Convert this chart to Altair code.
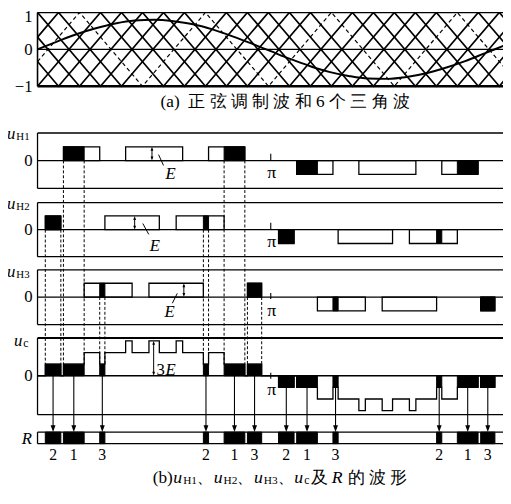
import altair as alt
import pandas as pd

# ---------------- values (electrical degrees) ----------------
SINE_DEG = [0, 15, 30, 45, 60, 75, 90, 105, 120, 135, 150, 165, 180,
            195, 210, 225, 240, 255, 270, 285, 300, 315, 330, 345, 360]
SINE_VAL = [0.00, 0.21, 0.41, 0.57, 0.70, 0.78, 0.80, 0.76, 0.68, 0.54, 0.36, 0.16, -0.05,
            -0.26, -0.45, -0.61, -0.72, -0.79, -0.80, -0.75, -0.65, -0.50, -0.32, -0.11, 0.10]

# turning points of the six phase-shifted triangular carriers
CARRIER_X = [
    [0, 48.6, 97.2, 145.8, 194.4, 243.0, 291.6, 340.2, 360],
    [0, 16.2, 64.8, 113.4, 162.0, 210.6, 259.2, 307.8, 356.4, 360],
    [0, 32.4, 81.0, 129.6, 178.2, 226.8, 275.4, 324.0, 360],
    [0, 48.6, 97.2, 145.8, 194.4, 243.0, 291.6, 340.2, 360],
    [0, 16.2, 64.8, 113.4, 162.0, 210.6, 259.2, 307.8, 356.4, 360],
    [0, 32.4, 81.0, 129.6, 178.2, 226.8, 275.4, 324.0, 360],
]
CARRIER_Y = [
    [1, -1, 1, -1, 1, -1, 1, -1, -0.19],
    [0.33, 1, -1, 1, -1, 1, -1, 1, -1, -0.85],
    [-0.33, 1, -1, 1, -1, 1, -1, 1, -0.48],
    [-1, 1, -1, 1, -1, 1, -1, 1, 0.19],
    [-0.33, -1, 1, -1, 1, -1, 1, -1, 1, 0.85],
    [0.33, -1, 1, -1, 1, -1, 1, -1, 0.48],
]
DASHED_CARRIER = 2

CELLS = ["H1", "H2", "H3"]
PULSE_START = {"H1": [20, 68, 132, 200, 248, 312],
               "H2": [6, 52, 107, 186, 232, 287],
               "H3": [36, 86, 162, 216, 266, 342]}
PULSE_END = {"H1": [48, 112, 160, 228, 292, 340],
             "H2": [18, 94, 144, 198, 274, 324],
             "H3": [73, 128, 173, 253, 308, 353]}

R_START = [6, 20, 48, 128, 144, 162, 186, 200, 228, 308, 324, 342]
R_END = [18, 36, 52, 132, 160, 173, 198, 216, 232, 312, 340, 353]
R_CELL = [2, 1, 3, 2, 1, 3, 2, 1, 3, 2, 1, 3]

# ---------------- layout (page pixels) ----------------
PX0, PX_PI = 38.0, 275.0


def px(p):
    return (p - PX0) * 180.0 / (PX_PI - PX0)


X_LEFT, X_RIGHT = px(8), px(511)
XS = alt.Scale(domain=[X_LEFT, X_RIGHT], nice=False, zero=False)
YS = alt.Scale(domain=[8, 504], reverse=True, nice=False, zero=False)

A_ZERO, A_UNIT, A_TOP, A_BOT = 46.0, 37.5, 8.7, 83.5
PANEL = {
    "H1": dict(zero=159.0, top=131.0, bot=187.3, e=14.0),
    "H2": dict(zero=229.3, top=201.7, bot=256.7, e=14.0),
    "H3": dict(zero=297.7, top=270.0, bot=325.7, e=14.0),
    "c": dict(zero=377.7, top=339.3, bot=417.3, e=11.8),
}
R_TOP, R_BOT = 435.0, 446.7
FONT = "Liberation Serif"

# ---------------- build tables ----------------
rules = []


def rule(x, x2, y, y2, w=1.2):
    rules.append(dict(x=x, x2=x2, y=y, y2=y2, w=w))


rule(0, X_RIGHT, A_TOP, A_TOP, 1.4)
rule(0, X_RIGHT, A_BOT, A_BOT, 2.4)
rule(0, X_RIGHT, A_ZERO, A_ZERO, 1.2)
rule(0, 0, A_TOP, A_BOT, 1.6)
for key, p in PANEL.items():
    rule(0, X_RIGHT, p["top"], p["top"], 2.0 if key == "c" else 1.3)
    rule(0, X_RIGHT, p["bot"], p["bot"], 1.3)
    rule(0, X_RIGHT, p["zero"], p["zero"], 1.3)
    rule(0, 0, p["top"], p["bot"], 1.3)
rule(0, X_RIGHT, R_TOP, R_TOP, 1.3)
rule(0, X_RIGHT, R_BOT, R_BOT, 1.3)
rule(0, 0, R_TOP, R_BOT, 1.3)

TICK = {"H1": (-7, 0), "H2": (-7, 0), "H3": (-4, 2), "c": (-3, 3)}
for key, (a, b) in TICK.items():
    z = PANEL[key]["zero"]
    rule(180, 180, z + a, z + b, 1.1)

points = []
UP = "M-0.7,1L0.7,1L0,-1Z"
DOWN = "M-0.7,-1L0.7,-1L0,1Z"

# E / 3E double arrows
E_MARKS = [("H1", 154.3, 1), ("H2", 136.7, 1), ("H3", 186.7, 1), ("c", 156.0, 3)]
for key, xp, lvl in E_MARKS:
    p = PANEL[key]
    top = p["zero"] - lvl * p["e"]
    rule(px(xp), px(xp), top + 2, p["zero"] - 2, 1.0)
    points.append(dict(x=px(xp), y=top + 2, shape=UP, size=16))
    points.append(dict(x=px(xp), y=p["zero"] - 2, shape=DOWN, size=16))

LEADERS = [(161, 153, 166, 164), (145, 223, 151, 234), (180, 294, 175, 304)]
for x1, y1, x2, y2 in LEADERS:
    rule(px(x1), px(x2), y1, y2, 1.0)

pulses = []
blacks = []
for cell in CELLS:
    p = PANEL[cell]
    for s, e in zip(PULSE_START[cell], PULSE_END[cell]):
        sg = 1 if s < 180 else -1
        pulses.append(dict(x=s, x2=e, y=p["zero"], y2=p["zero"] - sg * p["e"]))

dashed = []
uc = PANEL["c"]
for s, e, c in zip(R_START, R_END, R_CELL):
    sg = 1 if s < 180 else -1
    p = PANEL["H%d" % c]
    blacks.append(dict(x=s, x2=e, y=p["zero"], y2=p["zero"] - sg * p["e"]))
    blacks.append(dict(x=s, x2=e, y=uc["zero"], y2=uc["zero"] - sg * uc["e"]))
    blacks.append(dict(x=s, x2=e, y=R_TOP, y2=R_BOT))
    if sg > 0:
        for edge in (s, e):
            dashed.append(dict(x=edge, x2=edge, y=p["zero"], y2=uc["zero"] - uc["e"]))
    mid = (s + e) / 2.0
    y0 = uc["zero"] if sg > 0 else uc["zero"] + uc["e"]
    rule(mid, mid, y0, R_TOP - 4, 1.1)
    points.append(dict(x=mid, y=R_TOP - 3.6, shape=DOWN, size=50))

# u_c = sum of the three cell voltages
edges = sorted({0.0, 360.0} | {float(v) for c in CELLS for v in PULSE_START[c] + PULSE_END[c]})
uc_rows = []
for i, a in enumerate(edges[:-1]):
    lvl = 0
    for cell in CELLS:
        for s, e in zip(PULSE_START[cell], PULSE_END[cell]):
            if s <= a < e:
                lvl += 1 if s < 180 else -1
    uc_rows.append(dict(i=i, x=a, y=uc["zero"] - lvl * uc["e"]))
uc_rows.append(dict(i=len(uc_rows), x=360.0, y=uc_rows[-1]["y"]))

carrier_rows = []
for k, (xs, ys) in enumerate(zip(CARRIER_X, CARRIER_Y)):
    for i, (xv, yv) in enumerate(zip(xs, ys)):
        carrier_rows.append(dict(k=k, i=i, x=xv, y=A_ZERO - yv * A_UNIT))
sine_rows = [dict(i=i, x=d, y=A_ZERO - v * A_UNIT) for i, (d, v) in enumerate(zip(SINE_DEG, SINE_VAL))]

# ---------------- text ----------------
texts = []


def txt(t, xp, y, size=17, style="normal", align="left"):
    texts.append(dict(t=t, x=px(xp), y=y, size=size, style=style, align=align))


txt("1", 33, 18, 17, align="right")
txt("0", 33, A_ZERO + 5.5, 17, align="right")
txt("\u22121", 33, 89, 17, align="right")
txt("(a)\u2002正\u2005弦\u2005调\u2005制\u2005波\u2005和 6 个\u2005三\u2005角\u2005波", 163, 105, 17.5)

LABELS = [("H1", 7, 137, "H1", 16.5), ("H2", 7, 208, "H2", 16.5), ("H3", 7, 277, "H3", 16.5), ("c", 14, 347, "c", 23.5)]
for key, xu, yb, sub, xs in LABELS:
    txt("u", xu, yb, 17, "italic")
    txt(sub, xs, yb + 1, 11 if key != "c" else 12)
    txt("0", 33, PANEL[key]["zero"] + 5.5, 17, align="right")
txt("R", 22, 447, 17, "italic")

for yb in (177, 247, 317, 397):
    txt("π", 276, yb, 18, align="center")

txt("E", 168, 178, 17, "italic")
txt("E", 152, 251, 17, "italic")
txt("E", 167, 318, 17, "italic")
txt("3", 159, 377, 17)
txt("E", 168, 377, 17, "italic")

for s, e, c in zip(R_START, R_END, R_CELL):
    texts.append(dict(t=str(c), x=(s + e) / 2.0, y=463, size=16, style="normal", align="center"))

CAP_B = [("(b)", 155, "normal", 17.5), ("u", 176, "italic", 18), ("H1", 186, "normal", 11.5),
         ("、", 200, "normal", 15), ("u", 217, "italic", 18), ("H2", 227, "normal", 11.5),
         ("、", 241, "normal", 15), ("u", 258, "italic", 18), ("H3", 268, "normal", 11.5),
         ("、", 282, "normal", 15), ("u", 299, "italic", 18), ("c", 309, "normal", 12),
         ("及", 316, "normal", 17), ("R", 337, "italic", 18), ("的\u2005波\u2005形", 353, "normal", 17)]
for t, xp, st, sz in CAP_B:
    txt(t, xp, 488 if sz < 13 else 487, sz, st)

# ---------------- chart ----------------
def X(f="x"):
    return alt.X(f + ":Q", scale=XS, axis=None)


def Y(f="y"):
    return alt.Y(f + ":Q", scale=YS, axis=None)


layers = []
layers.append(alt.Chart(pd.DataFrame(pulses)).mark_rect(fill="white", stroke="black", strokeWidth=1.3)
              .encode(x=X(), x2="x2:Q", y=Y(), y2="y2:Q"))
layers.append(alt.Chart(pd.DataFrame(blacks)).mark_rect(fill="black", stroke="black", strokeWidth=1.0)
              .encode(x=X(), x2="x2:Q", y=Y(), y2="y2:Q"))
layers.append(alt.Chart(pd.DataFrame(rules)).mark_rule(color="black")
              .encode(x=X(), x2="x2:Q", y=Y(), y2="y2:Q",
                      strokeWidth=alt.StrokeWidth("w:Q", scale=None)))
layers.append(alt.Chart(pd.DataFrame(dashed)).mark_rule(color="black", strokeWidth=1.0, strokeDash=[3, 2])
              .encode(x=X(), x2="x2:Q", y=Y(), y2="y2:Q"))

cdf = pd.DataFrame(carrier_rows)
layers.append(alt.Chart(cdf[cdf.k != DASHED_CARRIER]).mark_line(color="black", strokeWidth=1.7, clip=True)
              .encode(x=X(), y=Y(), detail="k:N", order="i:Q"))
layers.append(alt.Chart(cdf[cdf.k == DASHED_CARRIER]).mark_line(color="black", strokeWidth=1.2,
                                                                 strokeDash=[4, 3], clip=True)
              .encode(x=X(), y=Y(), detail="k:N", order="i:Q"))
layers.append(alt.Chart(pd.DataFrame(sine_rows)).mark_line(color="black", strokeWidth=2.0,
                                                            interpolate="monotone", clip=True)
              .encode(x=X(), y=Y(), order="i:Q"))
layers.append(alt.Chart(pd.DataFrame(uc_rows)).mark_line(color="black", strokeWidth=1.3,
                                                          interpolate="step-after", clip=True)
              .encode(x=X(), y=Y(), order="i:Q"))
layers.append(alt.Chart(pd.DataFrame(points)).mark_point(filled=True, color="black", opacity=1, strokeWidth=0)
              .encode(x=X(), y=Y(), shape=alt.Shape("shape:N", scale=None),
                      size=alt.Size("size:Q", scale=None)))

tdf = pd.DataFrame(texts)
for (st, al), g in tdf.groupby(["style", "align"]):
    layers.append(alt.Chart(g).mark_text(font=FONT, fontStyle=st, align=al, baseline="alphabetic", color="black")
                  .encode(x=X(), y=Y(), text="t:N", size=alt.Size("size:Q", scale=None)))

chart = (alt.layer(*layers)
         .properties(width=503, height=496, padding=0, autosize=alt.AutoSizeParams(type="none"),
                     background="white")
         .configure_view(stroke=None))

chart.save("out.html", embed_options={"renderer": "svg", "actions": False})
